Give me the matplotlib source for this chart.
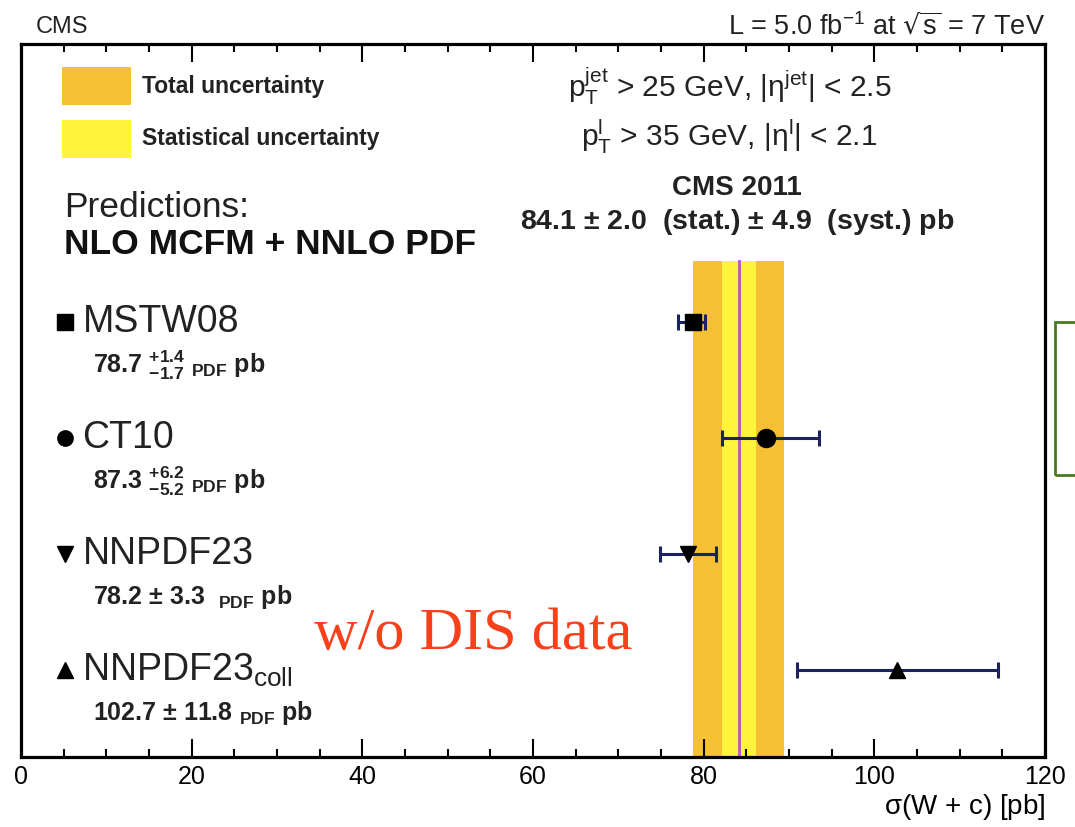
import matplotlib
matplotlib.use("Agg")
import matplotlib.pyplot as plt
from matplotlib.patches import Rectangle
from matplotlib.ticker import MultipleLocator

plt.rcParams["font.family"] = ["Liberation Sans", "DejaVu Sans"]
plt.rcParams["mathtext.default"] = "regular"

# measurement
meas_value = 84.1
meas_stat = 2.0
meas_syst = 4.9
meas_total = (meas_stat ** 2 + meas_syst ** 2) ** 0.5

# predictions
pdf_names = ["MSTW08", "CT10", "NNPDF23", r"NNPDF23$_{coll}$"]
pdf_values = [78.7, 87.3, 78.2, 102.7]
pdf_err_up = [1.4, 6.2, 3.3, 11.8]
pdf_err_down = [1.7, 5.2, 3.3, 11.8]
pdf_value_text = [r"78.7 ${}^{+1.4}_{-1.7}$ $_{PDF}$ pb",
                  r"87.3 ${}^{+6.2}_{-5.2}$ $_{PDF}$ pb",
                  r"78.2 $\pm$ 3.3  $_{PDF}$ pb",
                  r"102.7 $\pm$ 11.8 $_{PDF}$ pb"]
pdf_markers = ["s", "o", "v", "^"]
pdf_rows = [4, 3, 2, 1]

x_ticks = [0, 20, 40, 60, 80, 100, 120]

ORANGE = "#f6c034"
YELLOW = "#fff43c"
NAVY = "#1c2260"

fig = plt.figure(figsize=(10.75, 8.27), dpi=100)
ax = fig.add_axes([0.0195, 0.0846, 0.9526, 0.8622])

ax.set_xlim(0, 120)
ax.set_ylim(0.25, 6.40)
band_top = 4.53

# uncertainty bands
ax.fill_betweenx([0.25, band_top], meas_value - meas_total, meas_value + meas_total,
                 color=ORANGE, lw=0, zorder=1)
ax.fill_betweenx([0.25, band_top], meas_value - meas_stat, meas_value + meas_stat,
                 color=YELLOW, lw=0, zorder=1)
ax.plot([meas_value, meas_value], [0.25, band_top], color="#c050c8", lw=2, zorder=2)

for val, up, dn, mk, row in zip(pdf_values, pdf_err_up, pdf_err_down, pdf_markers, pdf_rows):
    ax.errorbar([val], [row], xerr=[[dn], [up]], fmt="none", ecolor=NAVY,
                elinewidth=2.2, capsize=6, capthick=2.2, zorder=3)
    ax.plot([val], [row], marker=mk, color="black", markersize=12 if mk != "o" else 13,
            ls="none", zorder=4)

# axes style
ax.set_xticks(x_ticks)
ax.xaxis.set_minor_locator(MultipleLocator(5))
ax.tick_params(axis="x", which="both", direction="in", top=True, bottom=True,
               labelsize=18, width=1.5, pad=6)
ax.tick_params(axis="x", which="major", length=13)
ax.tick_params(axis="x", which="minor", length=6)
ax.set_yticks([])
for s in ax.spines.values():
    s.set_linewidth(2.3)

ax.set_xlabel(r"$\sigma$(W + c) [pb]", fontsize=20, loc="right", labelpad=2)

fig.text(0.033, 0.967, "CMS", fontsize=17, va="center", ha="left", color="#222222")
fig.text(0.972, 0.967, r"L = 5.0 fb$^{-1}$ at $\sqrt{s}$ = 7 TeV", fontsize=19.5,
         va="center", ha="right", color="#222222")

# legend boxes
ax.add_patch(Rectangle((0.040, 0.915), 0.067, 0.053, transform=ax.transAxes,
                       color=ORANGE, lw=0, zorder=5))
ax.add_patch(Rectangle((0.040, 0.840), 0.067, 0.053, transform=ax.transAxes,
                       color=YELLOW, lw=0, zorder=5))
ax.text(0.118, 0.941, "Total uncertainty", transform=ax.transAxes, fontsize=16.5,
        fontweight="bold", va="center", color="#222222")
ax.text(0.118, 0.868, "Statistical uncertainty", transform=ax.transAxes, fontsize=16.5,
        fontweight="bold", va="center", color="#222222")

ax.text(0.692, 0.940, r"$p_{T}^{jet}$ > 25 GeV, |η$^{jet}$| < 2.5", transform=ax.transAxes,
        fontsize=21.5, ha="center", va="center", color="#222222")
ax.text(0.692, 0.870, r"$p_{T}^{l}$ > 35 GeV, |η$^{l}$| < 2.1", transform=ax.transAxes,
        fontsize=21.5, ha="center", va="center", color="#222222")

ax.text(0.699, 0.798, "CMS 2011", transform=ax.transAxes, fontsize=20,
        fontweight="bold", ha="center", va="center", color="#222222")
ax.text(0.699, 0.750, r"84.1 $\pm$ 2.0  (stat.) $\pm$ 4.9  (syst.) pb",
        transform=ax.transAxes, fontsize=20.5, fontweight="bold", ha="center",
        va="center", color="#222222")

ax.text(0.042, 0.770, "Predictions:", transform=ax.transAxes, fontsize=25.5,
        ha="left", va="center", color="#222222")
ax.text(0.042, 0.719, "NLO MCFM + NNLO PDF", transform=ax.transAxes, fontsize=25.5,
        fontweight="bold", ha="left", va="center", color="#111111")

# prediction labels on the left
for name, vtxt, mk, row in zip(pdf_names, pdf_value_text, pdf_markers, pdf_rows):
    ax.plot([0.043], [row], marker=mk, color="black", markersize=11,
            transform=ax.get_yaxis_transform(), clip_on=False, ls="none")
    ax.text(0.060, row, name, transform=ax.get_yaxis_transform(), fontsize=27,
            ha="left", va="center", color="#222222")
    ax.text(0.070, row - 0.37, vtxt, transform=ax.get_yaxis_transform(), fontsize=18,
            fontweight="bold", ha="left", va="center", color="#222222")

ax.text(0.286, 0.171, "w/o DIS data", transform=ax.transAxes, fontsize=43.5,
        family="Liberation Serif", color="#f8401a", ha="left", va="center")

# stray green box at the right edge
fig.add_artist(Rectangle((1055 / 1075, 1 - 475 / 827), 0.05, 153 / 827,
                         transform=fig.transFigure, fill=False, ec="#4a7a20", lw=2))

fig.savefig("out.png", dpi=100)
